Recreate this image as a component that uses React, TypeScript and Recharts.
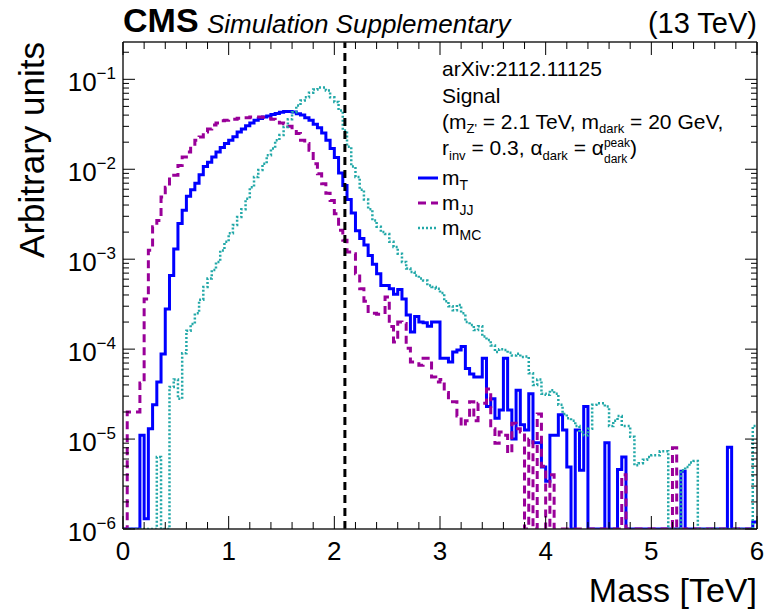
import React from 'react';
import { LineChart, Line, XAxis, YAxis, ReferenceLine, Legend } from 'recharts';

// 150 bins of 0.04 TeV from 0 to 6 TeV (0 = empty bin)
const binWidth = 0.04;

const mT = [
  0, 0, 0, 0, 1.1e-5, 1.3e-6, 1.3e-5, 2.4e-5, 4.3e-5, 8.8e-5,
  2.8e-4, 6.6e-4, 1.3e-3, 2.5e-3, 3.5e-3, 5.0e-3, 5.9e-3, 7.0e-3, 8.7e-3, 1.07e-2,
  1.2e-2, 1.37e-2, 1.56e-2, 1.74e-2, 1.93e-2, 2.1e-2, 2.3e-2, 2.6e-2, 2.8e-2, 3.05e-2,
  3.27e-2, 3.5e-2, 3.66e-2, 3.8e-2, 3.9e-2, 4.07e-2, 4.17e-2, 4.3e-2, 4.4e-2, 4.4e-2,
  4.33e-2, 4.15e-2, 4.0e-2, 3.75e-2, 3.5e-2, 3.16e-2, 2.9e-2, 2.53e-2, 2.1e-2, 1.7e-2,
  1.35e-2, 9.1e-3, 6.6e-3, 4.6e-3, 3.27e-3, 2.07e-3, 1.7e-3, 1.44e-3, 1.1e-3, 8.8e-4,
  6.9e-4, 5.1e-4, 5.1e-4, 4.7e-4, 4.07e-4, 4.6e-4, 3.6e-4, 2.4e-4, 1.55e-4, 2.3e-4,
  2.0e-4, 1.96e-4, 1.8e-4, 2.0e-4, 2.0e-4, 7.9e-5, 7.9e-5, 7.2e-5, 9.3e-5, 9.8e-5,
  1.07e-4, 6.1e-5, 5.3e-5, 4.9e-5, 4.9e-5, 7.9e-5, 2.3e-5, 2.8e-5, 1.7e-5, 2.1e-5,
  7.9e-5, 2.1e-5, 1.0e-5, 3.5e-5, 1.44e-5, 1.26e-5, 3.2e-5, 9.1e-6, 9.1e-6, 4.9e-6,
  3.4e-6, 1.1e-5, 1.1e-5, 1.86e-5, 1.26e-5, 4.9e-6, 0, 1.26e-5, 4.5e-6, 2.3e-5,
  0, 0, 0, 0, 9.1e-6, 0, 0, 4.6e-6, 6.3e-6, 0,
  0, 0, 0, 0, 0, 0, 0, 0, 0, 0,
  0, 0, 4.4e-6, 0, 0, 0, 0, 0, 0, 0,
  0, 0, 0, 8.1e-6, 0, 0, 0, 0, 0, 1.2e-6,
];

const mJJ = [
  0, 2e-5, 2e-5, 2e-5, 4.2e-5, 3.6e-4, 1.26e-3, 2.3e-3, 2.7e-3, 4.9e-3,
  6.3e-3, 8.2e-3, 8.6e-3, 1.1e-2, 1.37e-2, 1.56e-2, 1.8e-2, 2.1e-2, 2.28e-2, 2.6e-2,
  2.8e-2, 3.1e-2, 3.27e-2, 3.46e-2, 3.5e-2, 3.6e-2, 3.6e-2, 3.7e-2, 3.75e-2, 3.75e-2,
  3.8e-2, 3.8e-2, 3.8e-2, 3.78e-2, 3.7e-2, 3.6e-2, 3.46e-2, 3.27e-2, 3.2e-2, 3.0e-2,
  2.9e-2, 2.5e-2, 2.1e-2, 1.93e-2, 1.63e-2, 1.15e-2, 8.9e-3, 6.9e-3, 5.4e-3, 4.5e-3,
  3.2e-3, 2.1e-3, 1.62e-3, 1.2e-3, 1.15e-3, 6.9e-4, 4.7e-4, 3.4e-4, 2.5e-4, 2.5e-4,
  2.45e-4, 2.45e-4, 3.8e-4, 1.78e-4, 1.2e-4, 2.0e-4, 1.93e-4, 1.02e-4, 7.2e-5, 7.2e-5,
  6.6e-5, 7.9e-5, 7.9e-5, 4.9e-5, 4.3e-5, 4.6e-5, 3.3e-5, 2.6e-5, 2.6e-5, 1.8e-5,
  1.4e-5, 1.6e-5, 2.6e-5, 1.6e-5, 2.5e-5, 2.5e-5, 3.6e-5, 1.3e-5, 9e-6, 1.2e-5,
  1.1e-5, 7e-6, 1.5e-5, 1.3e-5, 1.2e-5, 0, 1e-5, 0, 1.9e-5, 5e-6,
  0, 4e-6, 0, 0, 0, 0, 0, 0, 0, 0,
  0, 0, 0, 0, 0, 0, 0, 0, 4e-6, 0,
  0, 0, 0, 0, 0, 0, 0, 0, 0, 0,
  8e-6, 0, 0, 0, 0, 0, 0, 0, 0, 0,
  0, 0, 0, 0, 0, 0, 0, 0, 0, 0,
];

const mMC = [
  0, 0, 0, 0, 0, 0, 0, 0, 6.3e-6, 0,
  0, 3.8e-5, 4.6e-5, 2.8e-5, 9e-5, 1.6e-4, 1.9e-4, 2.5e-4, 3.55e-4, 4.9e-4,
  6.1e-4, 7.6e-4, 9.3e-4, 1.25e-3, 1.56e-3, 1.94e-3, 2.4e-3, 2.95e-3, 3.6e-3, 4.7e-3,
  6.3e-3, 8.2e-3, 9.8e-3, 1.15e-2, 1.43e-2, 1.7e-2, 2.1e-2, 2.4e-2, 2.95e-2, 3.6e-2,
  4.3e-2, 5.1e-2, 5.8e-2, 6.3e-2, 7.1e-2, 7.7e-2, 8.1e-2, 8.1e-2, 7.5e-2, 6.3e-2,
  5.6e-2, 4.5e-2, 2.7e-2, 1.78e-2, 1.07e-2, 8.2e-3, 5.9e-3, 4.6e-3, 3.6e-3, 2.7e-3,
  2.3e-3, 2.0e-3, 1.9e-3, 1.56e-3, 1.37e-3, 1.15e-3, 9.3e-4, 7.9e-4, 7.2e-4, 6.6e-4,
  6.1e-4, 5.8e-4, 5.1e-4, 4.9e-4, 4.7e-4, 4.2e-4, 3.4e-4, 3.0e-4, 2.7e-4, 3.1e-4,
  2.5e-4, 2.0e-4, 1.86e-4, 1.63e-4, 1.8e-4, 1.38e-4, 1.26e-4, 1.1e-4, 9.3e-5, 1.0e-4,
  9.8e-5, 9.1e-5, 8.5e-5, 8.9e-5, 8.2e-5, 8.3e-5, 5.4e-5, 4.0e-5, 4.6e-5, 3.2e-5,
  3.1e-5, 3.5e-5, 3.2e-5, 2.4e-5, 1.9e-5, 1.7e-5, 1.6e-5, 1.4e-5, 1.2e-5, 1.1e-5,
  1.3e-5, 2.4e-5, 2.5e-5, 2.5e-5, 2.3e-5, 1.4e-5, 1.6e-5, 1.8e-5, 1.4e-5, 1.4e-5,
  1.06e-5, 5.1e-6, 5.4e-6, 5.9e-6, 6.3e-6, 6.6e-6, 6.6e-6, 7.3e-6, 7.3e-6, 0,
  0, 0, 4.5e-6, 4.9e-6, 5.5e-6, 5.7e-6, 0, 0, 0, 0,
  0, 0, 0, 0, 0, 0, 0, 0, 0, 1.4e-5,
];

const xMajor = [0, 1, 2, 3, 4, 5, 6];
const yDecades = [-6, -5, -4, -3, -2, -1];
const mZprime = 2.1;

const Y_MIN = 1e-6;
const Y_MAX = 0.26;
const FONT = '"Liberation Sans", Arial, Helvetica, sans-serif';

const series = [
  { key: 'mT', sub: 'T', color: '#0000ff', width: 3, dash: undefined as string | undefined },
  { key: 'mJJ', sub: 'JJ', color: '#990099', width: 3, dash: '8 5' },
  { key: 'mMC', sub: 'MC', color: '#22a8a8', width: 2.5, dash: '2 2' },
];

// empty bins sit on the bottom of the frame, like ROOT does on a log axis
const clampLow = (v: number) => (v > Y_MIN ? v : Y_MIN);

const table = mT.map((_, i) => ({
  x: +(i * binWidth).toFixed(2),
  mT: clampLow(mT[i]),
  mJJ: clampLow(mJJ[i]),
  mMC: clampLow(mMC[i]),
}));
// closing point so the last bin gets its full width with stepAfter
table.push({
  x: 6,
  mT: clampLow(mT[mT.length - 1]),
  mJJ: clampLow(mJJ[mJJ.length - 1]),
  mMC: clampLow(mMC[mMC.length - 1]),
});

const xTicks: number[] = [];
for (let i = 0; i < xMajor.length - 1; i++) {
  for (let k = 0; k < 5; k++) xTicks.push(+(xMajor[i] + k * 0.2).toFixed(1));
}
xTicks.push(xMajor[xMajor.length - 1]);

const yTicks: number[] = [];
yDecades.forEach((d) => {
  for (let m = 1; m <= 9; m++) {
    const v = m * Math.pow(10, d);
    if (v <= Y_MAX) yTicks.push(v);
  }
});

const XTick = (props: any) => {
  const { x, y, payload, top } = props;
  const v = payload.value;
  const major = Math.abs(v - Math.round(v)) < 1e-6;
  const len = major ? 13 : 7;
  const dir = top ? 1 : -1;
  return (
    <g>
      <line x1={x} x2={x} y1={y} y2={y + dir * len} stroke="#000" strokeWidth={1} />
      {major && !top && (
        <text x={x} y={y + 31} textAnchor="middle" fontSize={26} fill="#000" style={{ fontFamily: FONT }}>
          {Math.round(v)}
        </text>
      )}
    </g>
  );
};

const YTick = (props: any) => {
  const { x, y, payload, right } = props;
  const e = Math.log10(payload.value);
  const major = Math.abs(e - Math.round(e)) < 1e-6;
  const len = major ? 12 : 6;
  const dir = right ? -1 : 1;
  return (
    <g>
      <line x1={x} x2={x + dir * len} y1={y} y2={y} stroke="#000" strokeWidth={1} />
      {major && !right && (
        <text x={x - 7} y={y + 12} textAnchor="end" fontSize={26} fill="#000" style={{ fontFamily: FONT }}>
          10
          <tspan dy={-12} fontSize={17}>
            {'\u2212' + -Math.round(e)}
          </tspan>
        </text>
      )}
    </g>
  );
};

const LegendBox = (props: any) => {
  const payload = props.payload || [];
  return (
    <svg width={130} height={80} style={{ fontFamily: FONT, overflow: 'visible' }}>
      {series.map((s, i) => {
        const entry = payload.find((p: any) => p.dataKey === s.key);
        const y = 18 + i * 25;
        return (
          <g key={s.key}>
            <line x1={8} x2={28} y1={y} y2={y} stroke={entry ? entry.color : s.color} strokeWidth={s.width} strokeDasharray={s.dash} />
            <text x={32} y={y + 7} fontSize={21} fill="#000">
              m<tspan dy={5} fontSize={14}>{s.sub}</tspan>
            </text>
          </g>
        );
      })}
    </svg>
  );
};

export default function App() {
  return (
    <div style={{ position: 'absolute', left: 0, top: 0, width: 776, height: 610, background: '#fff', fontFamily: FONT }}>
      <LineChart width={776} height={610} data={table} margin={{ top: 32, right: 9, bottom: 51, left: 63 }}>
        <XAxis
          xAxisId="b"
          dataKey="x"
          type="number"
          domain={[0, 6]}
          allowDataOverflow
          ticks={xTicks}
          interval={0}
          tickSize={0}
          tickMargin={0}
          height={30}
          axisLine={{ stroke: '#222', strokeWidth: 1.5 }}
          tickLine={false}
          tick={(p: any) => <XTick {...p} />}
        />
        <XAxis
          xAxisId="t"
          dataKey="x"
          orientation="top"
          type="number"
          domain={[0, 6]}
          allowDataOverflow
          ticks={xTicks}
          interval={0}
          tickSize={0}
          tickMargin={0}
          height={10}
          axisLine={{ stroke: '#222', strokeWidth: 1.5 }}
          tickLine={false}
          tick={(p: any) => <XTick {...p} top />}
        />
        <YAxis
          yAxisId="l"
          scale="log"
          type="number"
          domain={[Y_MIN, Y_MAX]}
          allowDataOverflow
          ticks={yTicks}
          interval={0}
          tickSize={0}
          tickMargin={0}
          width={60}
          axisLine={{ stroke: '#222', strokeWidth: 1.5 }}
          tickLine={false}
          tick={(p: any) => <YTick {...p} />}
        />
        <YAxis
          yAxisId="r"
          orientation="right"
          scale="log"
          type="number"
          domain={[Y_MIN, Y_MAX]}
          allowDataOverflow
          ticks={yTicks}
          interval={0}
          tickSize={0}
          tickMargin={0}
          width={10}
          axisLine={{ stroke: '#222', strokeWidth: 1.5 }}
          tickLine={false}
          tick={(p: any) => <YTick {...p} right />}
        />
        {series.map((s) => (
          <Line
            key={s.key}
            xAxisId="b"
            yAxisId="l"
            dataKey={s.key}
            type="stepAfter"
            stroke={s.color}
            strokeWidth={s.width}
            strokeDasharray={s.dash}
            dot={false}
            activeDot={false}
            isAnimationActive={false}
          />
        ))}
        <ReferenceLine xAxisId="b" yAxisId="l" x={mZprime} stroke="#000" strokeWidth={3} strokeDasharray="8 5" />
        <Legend
          layout="vertical"
          align="center"
          verticalAlign="middle"
          content={(p: any) => <LegendBox {...p} />}
          wrapperStyle={{ position: 'absolute', left: 410, top: 160, width: 130, height: 80 }}
        />
      </LineChart>

      <svg width={776} height={610} style={{ position: 'absolute', left: 0, top: 0, pointerEvents: 'none', fontFamily: FONT }}>
        <text x={123} y={32} fontSize={34} fontWeight="bold" fill="#000">CMS</text>
        <text x={207} y={33} fontSize={26} fontStyle="italic" fill="#000">Simulation Supplementary</text>
        <text x={757} y={33} fontSize={29} textAnchor="end" fill="#000">(13 TeV)</text>

        <text transform="translate(44,42) rotate(-90)" fontSize={35} textAnchor="end" fill="#000">Arbitrary units</text>
        <text x={757} y={602} fontSize={34} textAnchor="end" fill="#000">Mass [TeV]</text>

        <g fontSize={21} fill="#000">
          <text x={442} y={76}>arXiv:2112.11125</text>
          <text x={442} y={103}>Signal</text>
          <text x={442} y={129}>
            (m<tspan dy={4} fontSize={13}>Z'</tspan>
            <tspan dy={-4}> = 2.1 TeV, m</tspan>
            <tspan dy={4} fontSize={13}>dark</tspan>
            <tspan dy={-4}> = 20 GeV,</tspan>
          </text>
          <text x={442} y={155}>
            r<tspan dy={5} fontSize={13}>inv</tspan>
            <tspan dy={-5}> = 0.3, α</tspan>
            <tspan dy={5} fontSize={13}>dark</tspan>
            <tspan dy={-5}> = α</tspan>
            <tspan dy={-8} fontSize={12}>peak</tspan>
            <tspan dx={-26} dy={16} fontSize={12}>dark</tspan>
            <tspan dx={2.7} dy={-8}>)</tspan>
          </text>
        </g>
      </svg>
    </div>
  );
}
